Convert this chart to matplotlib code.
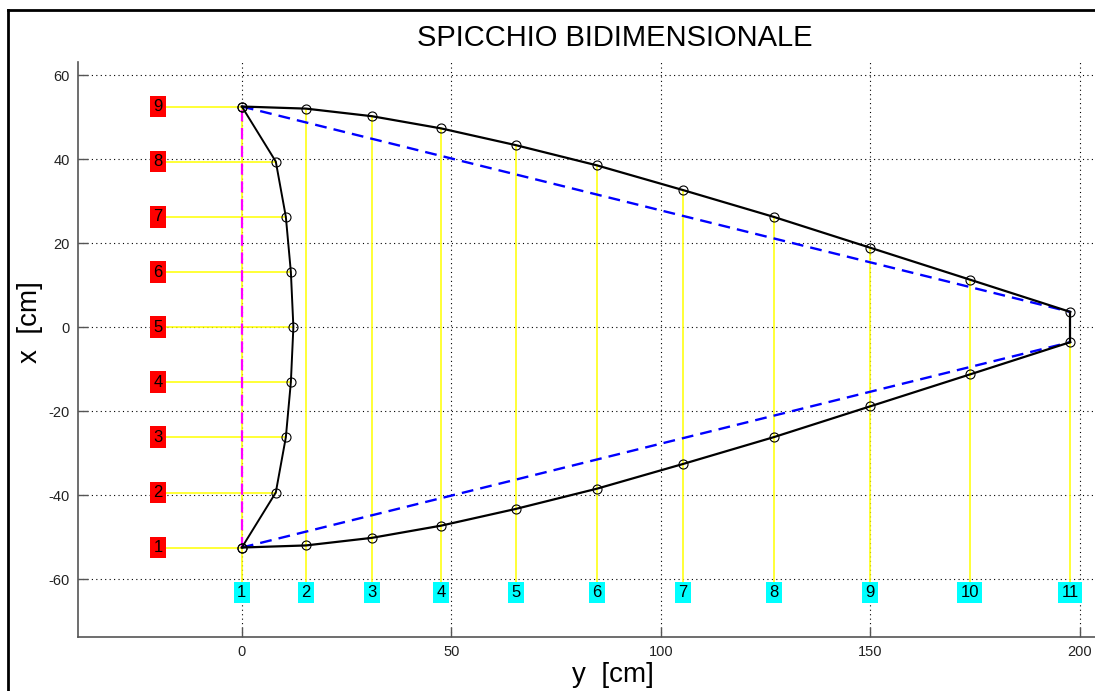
import matplotlib
matplotlib.use("Agg")
import matplotlib.pyplot as plt
from matplotlib.lines import Line2D

plt.rcParams['font.family'] = ['Liberation Sans', 'DejaVu Sans']
plt.rcParams['axes.unicode_minus'] = False

# sezioni lungo y (colonne 1..11)
col_y = [0.0, 15.3, 31.0, 47.5, 65.4, 84.7, 105.3, 127.0, 149.9, 173.7, 197.7]
col_x = [52.5, 52.0, 50.2, 47.3, 43.3, 38.5, 32.6, 26.2, 18.9, 11.3, 3.6]
col_labels = ['1', '2', '3', '4', '5', '6', '7', '8', '9', '10', '11']

# bordo curvo di sinistra (punti 1..9)
left_y = [0.0, 8.1, 10.5, 11.7, 12.3, 11.7, 10.5, 8.1, 0.0]
left_x = [-52.5, -39.4, -26.25, -13.1, 0.0, 13.1, 26.25, 39.4, 52.5]
left_labels = ['1', '2', '3', '4', '5', '6', '7', '8', '9']

lab_y_pos = -20.0   # colonna delle etichette rosse
lab_x_pos = -63.2   # riga delle etichette azzurre

fig = plt.figure(figsize=(10.95, 6.91), dpi=100)
ax = fig.add_axes([78 / 1095, 54 / 691, 1 - 78 / 1095, 575 / 691])
ax.set_xlim(-39.1, 203.6)
ax.set_ylim(-73.8, 63.1)

# linee gialle di riferimento
for yy, xx in zip(left_y, left_x):
    ax.plot([lab_y_pos, yy], [xx, xx], color='#ffff00', lw=1.1, zorder=2)
for yy, xx in zip(col_y, col_x):
    ax.plot([yy, yy], [xx, lab_x_pos], color='#ffff00', lw=1.1, zorder=2)

# asse di simmetria
ax.plot([0, 0], [-52.5, 52.5], color='magenta', lw=1.6, ls=(0, (5, 3)), zorder=3)

# corde tratteggiate
ax.plot([col_y[0], col_y[-1]], [col_x[0], col_x[-1]], color='blue', lw=1.7,
        ls=(0, (5, 3)), zorder=3)
ax.plot([col_y[0], col_y[-1]], [-col_x[0], -col_x[-1]], color='blue', lw=1.7,
        ls=(0, (5, 3)), zorder=3)

# contorno
ax.plot(col_y, col_x, color='black', lw=1.6, zorder=4)
ax.plot(col_y, [-v for v in col_x], color='black', lw=1.6, zorder=4)
ax.plot([col_y[-1], col_y[-1]], [col_x[-1], -col_x[-1]], color='black', lw=1.6, zorder=4)
ax.plot(left_y, left_x, color='black', lw=1.4, zorder=4)

mk = dict(ls='none', marker='o', ms=6.5, mfc='none', mec='black', mew=0.8, zorder=5)
ax.plot(col_y, col_x, **mk)
ax.plot(col_y, [-v for v in col_x], **mk)
ax.plot(left_y, left_x, **mk)

for xx, t in zip(left_x, left_labels):
    ax.text(lab_y_pos, xx, t, ha='center', va='center', fontsize=12, zorder=6,
            bbox=dict(boxstyle='square,pad=0.2', fc='red', ec='none'))
for yy, t in zip(col_y, col_labels):
    ax.text(yy, lab_x_pos, t, ha='center', va='center', fontsize=12, zorder=6,
            bbox=dict(boxstyle='square,pad=0.2', fc='cyan', ec='none'))

ax.set_xticks([0, 50, 100, 150, 200])
ax.set_yticks([-60, -40, -20, 0, 20, 40, 60])
ax.grid(True, color='black', ls=(0, (1, 3)), lw=0.8)
ax.set_axisbelow(True)
ax.tick_params(direction='in', length=7, width=1, color='#555555',
               labelsize=10.5, labelcolor='#222222', pad=6)
for s in ['top', 'right']:
    ax.spines[s].set_visible(False)
for s in ['left', 'bottom']:
    ax.spines[s].set_color('#555555')
    ax.spines[s].set_linewidth(1.2)

fig.text(615 / 1095, 1 - 38 / 691, 'SPICCHIO BIDIMENSIONALE', ha='center', va='center',
         fontsize=21)
fig.text(613 / 1095, 1 - 675 / 691, 'y  [cm]', ha='center', va='center', fontsize=20)
fig.text(30 / 1095, 1 - 322 / 691, 'x  [cm]', ha='center', va='center', fontsize=20,
         rotation=90)

# cornice della figura
fig.add_artist(Line2D([8 / 1095, 8 / 1095], [0, 1 - 10 / 691], color='black', lw=2))
fig.add_artist(Line2D([8 / 1095, 1], [1 - 10 / 691, 1 - 10 / 691], color='black', lw=2))

fig.savefig('out.png', dpi=100)
